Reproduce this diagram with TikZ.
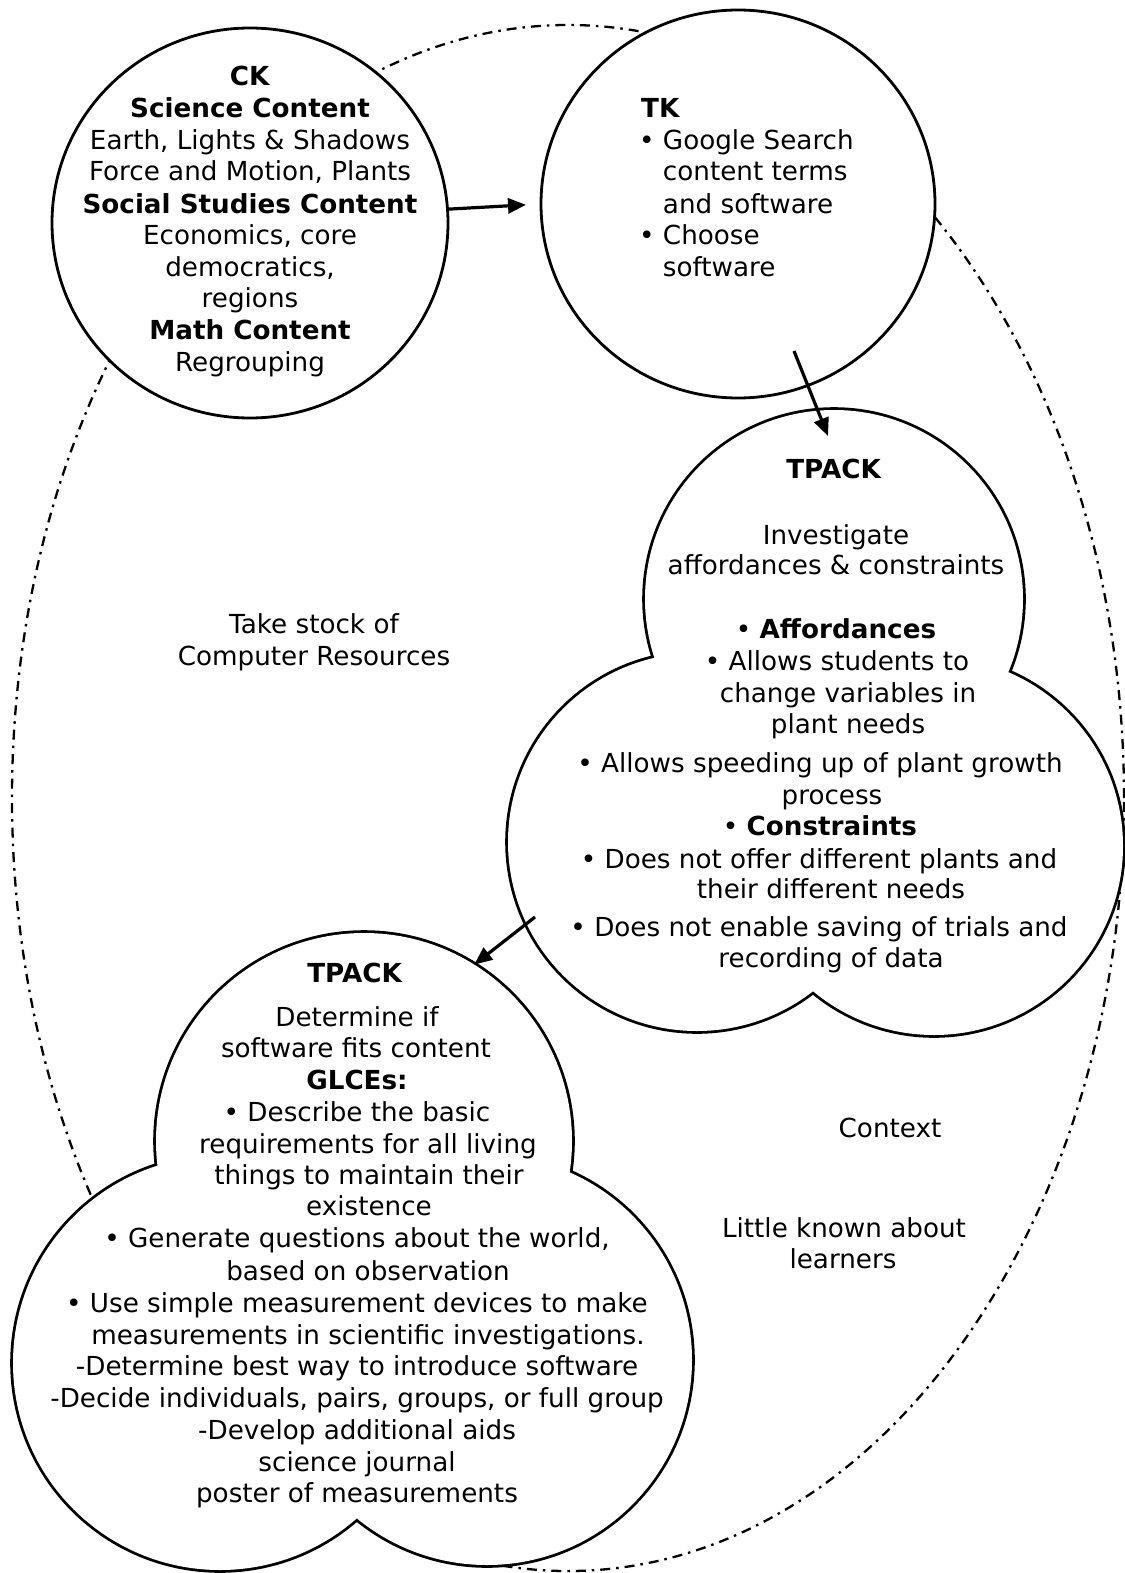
\documentclass[tikz,border=0pt]{standalone}
\usepackage{fontspec}
\setmainfont{DejaVu Sans}
\usetikzlibrary{arrows.meta,shapes.geometric}
\newcommand{\bodysize}{\fontsize{26.2pt}{31.6pt}\selectfont}

\begin{document}
\begin{tikzpicture}[x=1pt,y=-1pt,
  context/.style={line width=2.3pt, dash pattern=on 10pt off 6pt on 2.5pt off 6pt},
  bubble/.style={ellipse, draw, fill=white, line width=2.8pt, inner sep=0pt, outer sep=0pt},
  lobe/.style={circle, draw, line width=5.6pt, inner sep=0pt, outer sep=0pt},
  conn/.style={line width=3.2pt, -{Triangle[length=18pt,width=15pt]}},
  txt/.style={anchor=base, inner sep=0pt, yshift=-2pt, font=\bodysize},
  txtl/.style={anchor=base west, inner sep=0pt, yshift=-2pt, font=\bodysize}]

\useasboundingbox (0,0) rectangle (1124,1573);

% surrounding context boundary
\draw[context] (568,798) ellipse [x radius=556pt, y radius=773pt];

% knowledge bubbles
\node[bubble, minimum width=396pt, minimum height=390pt] (ck) at (250,223) {};
\node[bubble, minimum width=394pt, minimum height=388pt] (tk) at (738,204) {};

% first TPACK cloud: three overlapping lobes
\node[lobe, minimum size=378pt] (pa) at (834,599) {};
\node[lobe, minimum size=378pt] (pb) at (697,842) {};
\node[lobe, minimum size=378pt] (pc) at (934,846) {};
\fill[white] (pa.center) circle[radius=189pt] (pb.center) circle[radius=189pt] (pc.center) circle[radius=189pt];

% second TPACK cloud
\node[lobe, minimum size=416pt] (qa) at (364,1141) {};
\node[lobe, minimum size=414pt] (qb) at (220,1363) {};
\node[lobe, minimum size=410pt] (qc) at (487,1360) {};
\fill[white] (qa.center) circle[radius=208pt] (qb.center) circle[radius=207pt] (qc.center) circle[radius=205pt];

% connectors
\coordinate (tkout) at (794,351);
\coordinate (pain) at (828,436);
\coordinate (pbout) at (535,917);
\draw[conn, shorten >=15pt] (ck.4) -- (tk.west);
\draw[conn] (tkout) -- (pain);
\draw[conn] (pbout) -- (qa.58.6);

% CK text
\node[txt] (ck1) at (250,83.5) {\textbf{CK}};
\node[txt] (ck2) at (250,115.5) {\textbf{Science Content}};
\node[txt] (ck3) at (250,148) {Earth, Lights \& Shadows};
\node[txt] (ck4) at (250,179) {Force and Motion, Plants};
\node[txt] (ck5) at (250,211.5) {\textbf{Social Studies Content}};
\node[txt] (ck6) at (250,242.5) {Economics, core};
\node[txt] (ck7) at (250,274.5) {democratics,};
\node[txt] (ck8) at (250,305.5) {regions};
\node[txt] (ck9) at (250,337.5) {\textbf{Math Content}};
\node[txt] (ck10) at (250,369.5) {Regrouping};

% TK text
\node[txtl] (tk1) at (641,115.5) {\textbf{TK}};
\node[txtl] (tk2) at (639,148) {• Google Search};
\node[txtl] (tk3) at (639,179) {\hphantom{•\ }content terms};
\node[txtl] (tk4) at (639,211.5) {\hphantom{•\ }and software};
\node[txtl] (tk5) at (639,242.5) {• Choose};
\node[txtl] (tk6) at (639,274.5) {\hphantom{•\ }software};

% first TPACK text
\node[txt] (a1) at (834,476.5) {\textbf{TPACK}};
\node[txt] (a2) at (836,542.5) {Investigate};
\node[txt] (a3) at (836,572.5) {affordances \& constraints};
\node[txt] (a4) at (836,636.5) {• \textbf{Affordances}};
\node[txt] (a5) at (837,668.5) {• Allows students to};
\node[txt] (a6) at (848,700.5) {change variables in};
\node[txt] (a7) at (848,731.5) {plant needs};
\node[txt] (a8) at (820,770.5) {• Allows speeding up of plant growth};
\node[txt] (a9) at (832,802.5) {process};
\node[txt] (a10) at (820,833.5) {• \textbf{Constraints}};
\node[txt] (a11) at (819,866.5) {• Does not offer different plants and};
\node[txt] (a12) at (831,896.5) {their different needs};
\node[txt] (a13) at (819,934.5) {• Does not enable saving of trials and};
\node[txt] (a14) at (831,965.5) {recording of data};

% second TPACK text
\node[txt] (b1) at (355,980) {\textbf{TPACK}};
\node[txt] (b2) at (357,1024) {Determine if};
\node[txt] (b3) at (356,1055) {software fits content};
\node[txt] (b4) at (357,1087.5) {\textbf{GLCEs:}};
\node[txt] (b5) at (357,1119.5) {• Describe the basic};
\node[txt] (b6) at (368,1151.5) {requirements for all living};
\node[txt] (b7) at (369,1182.5) {things to maintain their};
\node[txt] (b8) at (369,1213.5) {existence};
\node[txt] (b9) at (357,1245.5) {• Generate questions about the world,};
\node[txt] (b10) at (368,1278) {based on observation};
\node[txt] (b11) at (357,1310) {• Use simple measurement devices to make};
\node[txt] (b12) at (368,1342) {measurements in scientific investigations.};
\node[txt] (b13) at (357,1373.5) {-Determine best way to introduce software};
\node[txt] (b14) at (357,1405.5) {-Decide individuals, pairs, groups, or full group};
\node[txt] (b15) at (357,1437.5) {-Develop additional aids};
\node[txt] (b16) at (357,1469.5) {science journal};
\node[txt] (b17) at (357,1500.5) {poster of measurements};

% free-standing labels
\node[txt] (c1) at (314,631.5) {Take stock of};
\node[txt] (c2) at (314,663.5) {Computer Resources};
\node[txt] (c3) at (890,1135.5) {Context};
\node[txt] (c4) at (844,1235.5) {Little known about};
\node[txt] (c5) at (843,1266.5) {learners};
\end{tikzpicture}
\end{document}
